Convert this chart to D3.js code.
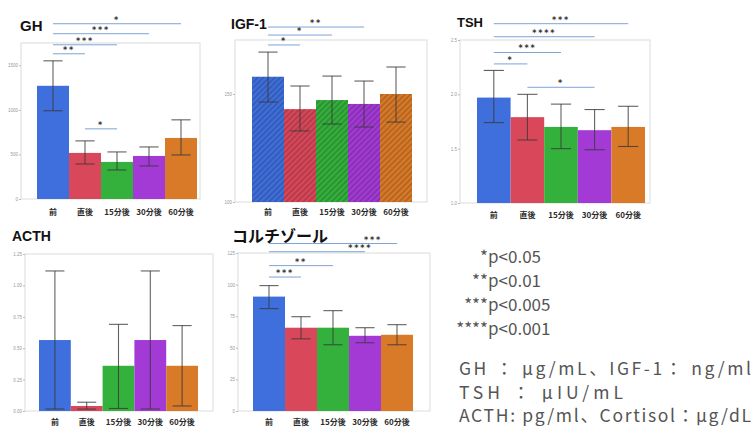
<!DOCTYPE html>
<html>
<head>
<meta charset="utf-8">
<script src="https://cdn.jsdelivr.net/npm/d3@7"></script>
<style>
  body { margin: 0; background: #fff; }
  svg { display: block; }
</style>
</head>
<body>
<div id="chart"></div>
<script>
// time points and bar colours
const categories = ['前', '直後', '15分後', '30分後', '60分後'];
const barColors = ['#3f6fdc', '#d9475a', '#34b03c', '#a33ad6', '#d97a28'];

// GH
const ghMean = [1270, 517, 416, 483, 685];
const ghLow = [990, 393, 326, 371, 494];
const ghHigh = [1550, 652, 528, 584, 888];
const ghTicks = [0, 500, 1000, 1500];
const ghSig = [
  { from: 0, to: 4, label: '*', level: 1966 },
  { from: 0, to: 3, label: '***', level: 1854 },
  { from: 0, to: 2, label: '***', level: 1730 },
  { from: 0, to: 1, label: '**', level: 1629 },
  { from: 1, to: 2, label: '*', level: 787 }
];

// IGF-1
const igfMean = [158, 143, 147.2, 145.4, 150];
const igfLow = [146.3, 132.9, 136.1, 134.7, 137];
const igfHigh = [169.4, 153.7, 158.3, 156, 162.5];
const igfTicks = [100, 150];
const igfSig = [
  { from: 0, to: 3, label: '**', level: 181 },
  { from: 0, to: 2, label: '*', level: 177.3 },
  { from: 0, to: 1, label: '*', level: 172.7 }
];

// TSH
const tshMean = [1.97, 1.79, 1.70, 1.67, 1.70];
const tshLow = [1.74, 1.58, 1.50, 1.49, 1.52];
const tshHigh = [2.22, 2.00, 1.91, 1.86, 1.89];
const tshTicks = [1.0, 1.5, 2.0, 2.5];
const tshSig = [
  { from: 0, to: 4, label: '***', level: 2.65 },
  { from: 0, to: 3, label: '****', level: 2.53 },
  { from: 0, to: 2, label: '***', level: 2.385 },
  { from: 0, to: 1, label: '*', level: 2.28 },
  { from: 1, to: 3, label: '*', level: 2.065 }
];

// ACTH
const acthMean = [0.565, 0.04, 0.36, 0.565, 0.36];
const acthLow = [0.016, 0.015, 0.02, 0.016, 0.04];
const acthHigh = [1.115, 0.07, 0.69, 1.115, 0.68];
const acthTicks = [0, 0.25, 0.5, 0.75, 1.0, 1.25];

// Cortisol
const cortMean = [90.5, 65.9, 65.9, 59.5, 60.3];
const cortLow = [81, 57.1, 52.4, 54, 52.4];
const cortHigh = [99.2, 74.6, 79.4, 65.9, 68.3];
const cortTicks = [0, 25, 50, 75, 100, 125];
const cortSig = [
  { from: 0, to: 4, label: '***', level: 132.5, at: 3.25 },
  { from: 0, to: 3, label: '****', level: 126, at: 2.85 },
  { from: 0, to: 2, label: '**', level: 115 },
  { from: 0, to: 1, label: '***', level: 106 }
];

// right-hand notes
const pNotes = [['*', 'p<0.05'], ['**', 'p<0.01'], ['***', 'p<0.005'], ['****', 'p<0.001']];
const unitNotes = ['GH ： μg/mL、IGF-1： ng/ml', 'TSH ： μIU/mL', 'ACTH: pg/ml、Cortisol：μg/dL'];

const width = 753, height = 428;
const jp = '"Noto Sans CJK JP", "Noto Sans", sans-serif';

const svg = d3.select('#chart').append('svg')
    .attr('width', width)
    .attr('height', height);

const defs = svg.append('defs');
barColors.forEach((c, i) => {
  const pat = defs.append('pattern')
      .attr('id', 'hatch' + i)
      .attr('patternUnits', 'userSpaceOnUse')
      .attr('width', 4)
      .attr('height', 4)
      .attr('patternTransform', 'rotate(45)');
  pat.append('rect').attr('width', 4).attr('height', 4).attr('fill', c);
  pat.append('line')
      .attr('x1', 1).attr('y1', 0).attr('x2', 1).attr('y2', 4)
      .attr('stroke', d3.color(c).darker(0.9))
      .attr('stroke-width', 1.2);
});

function drawPanel(p) {
  const g = svg.append('g');
  const x = d3.scaleBand().domain(categories).range([p.bx0, p.bx1]).padding(0);
  const y = d3.scaleLinear().domain(p.domain).range([p.bottom, p.top]);
  const cx = i => x(categories[i]) + x.bandwidth() / 2;

  g.append('rect')
      .attr('x', p.fx0).attr('y', p.top)
      .attr('width', p.fx1 - p.fx0).attr('height', p.bottom - p.top)
      .attr('fill', 'none').attr('stroke', '#dcdcdc').attr('stroke-width', 1);

  const axis = g.append('g')
      .attr('transform', 'translate(' + p.fx0 + ',0)')
      .call(d3.axisLeft(y).tickValues(p.ticks).tickFormat(d3.format(p.fmt)).tickSize(2).tickPadding(1));
  axis.select('.domain').remove();
  axis.selectAll('line').attr('stroke', '#bbb');
  axis.selectAll('text').attr('fill', '#999').style('font-size', '4.5px').style('font-family', 'Liberation Sans');

  g.selectAll('.bar')
      .data(p.mean)
    .enter().append('rect')
      .attr('x', (d, i) => x(categories[i]))
      .attr('y', d => y(d))
      .attr('width', x.bandwidth())
      .attr('height', d => y(p.domain[0]) - y(d))
      .attr('fill', (d, i) => p.hatch ? 'url(#hatch' + i + ')' : barColors[i]);

  const capW = x.bandwidth() * 0.6;
  const err = g.selectAll('.err')
      .data(p.mean)
    .enter().append('g')
      .attr('stroke', '#3a3a3a')
      .attr('stroke-opacity', 0.8)
      .attr('stroke-width', 1.1);
  err.append('line')
      .attr('x1', (d, i) => cx(i)).attr('x2', (d, i) => cx(i))
      .attr('y1', (d, i) => y(p.low[i])).attr('y2', (d, i) => y(p.high[i]));
  err.append('line')
      .attr('x1', (d, i) => cx(i) - capW / 2).attr('x2', (d, i) => cx(i) + capW / 2)
      .attr('y1', (d, i) => y(p.high[i])).attr('y2', (d, i) => y(p.high[i]));
  err.append('line')
      .attr('x1', (d, i) => cx(i) - capW / 2).attr('x2', (d, i) => cx(i) + capW / 2)
      .attr('y1', (d, i) => y(p.low[i])).attr('y2', (d, i) => y(p.low[i]));

  g.selectAll('.cat')
      .data(categories)
    .enter().append('text')
      .attr('x', (d, i) => cx(i))
      .attr('y', p.labelY)
      .attr('text-anchor', 'middle')
      .attr('fill', '#2a2a2a')
      .style('font-family', jp)
      .style('font-weight', 'bold')
      .style('font-size', '8px')
      .text(d => d);

  g.append('text')
      .attr('x', p.titleX).attr('y', p.titleY)
      .attr('fill', '#111')
      .style('font-family', p.titleFont)
      .style('font-weight', 'bold')
      .style('font-size', p.titleSize + 'px')
      .text(p.title);

  (p.sig || []).forEach(s => {
    const yy = y(s.level);
    g.append('line')
        .attr('x1', cx(s.from)).attr('x2', cx(s.to))
        .attr('y1', yy).attr('y2', yy)
        .attr('stroke', '#7ea3d6').attr('stroke-width', 1);
    const lx = s.at !== undefined ? p.bx0 + (s.at + 0.5) * x.bandwidth() : (cx(s.from) + cx(s.to)) / 2;
    g.append('text')
        .attr('x', lx).attr('y', yy - 1)
        .attr('text-anchor', 'middle')
        .attr('fill', '#333')
        .style('font-family', 'DejaVu Sans')
        .style('font-weight', 'bold')
        .style('font-size', '8px')
        .style('letter-spacing', '1.8px')
        .text(s.label);
  });
}

drawPanel({ title: 'GH', titleX: 20, titleY: 31, titleSize: 15, titleFont: 'Liberation Sans',
  mean: ghMean, low: ghLow, high: ghHigh, ticks: ghTicks, fmt: 'd', sig: ghSig,
  domain: [0, 1750], fx0: 21, fx1: 200, bx0: 37, bx1: 197, top: 43, bottom: 199, labelY: 215 });

drawPanel({ title: 'IGF-1', titleX: 231, titleY: 29, titleSize: 14, titleFont: 'Liberation Sans',
  mean: igfMean, low: igfLow, high: igfHigh, ticks: igfTicks, fmt: 'd', sig: igfSig, hatch: true,
  domain: [100, 175], fx0: 235, fx1: 427, bx0: 252, bx1: 412, top: 40, bottom: 202, labelY: 215 });

drawPanel({ title: 'TSH', titleX: 457, titleY: 27, titleSize: 13, titleFont: 'Liberation Sans',
  mean: tshMean, low: tshLow, high: tshHigh, ticks: tshTicks, fmt: '.1f', sig: tshSig,
  domain: [1.0, 2.5], fx0: 460, fx1: 650, bx0: 477, bx1: 645, top: 40, bottom: 203, labelY: 218 });

drawPanel({ title: 'ACTH', titleX: 12, titleY: 241, titleSize: 14, titleFont: 'Liberation Sans',
  mean: acthMean, low: acthLow, high: acthHigh, ticks: acthTicks, fmt: '.2f',
  domain: [0, 1.25], fx0: 25, fx1: 213, bx0: 39, bx1: 198, top: 254, bottom: 411, labelY: 425 });

drawPanel({ title: 'コルチゾール', titleX: 232, titleY: 242, titleSize: 16, titleFont: jp,
  mean: cortMean, low: cortLow, high: cortHigh, ticks: cortTicks, fmt: 'd', sig: cortSig,
  domain: [0, 125], fx0: 238, fx1: 430, bx0: 253, bx1: 413, top: 253, bottom: 411, labelY: 425 });

// significance legend
const notes = svg.append('g')
    .attr('fill', '#555')
    .style('font-family', jp)
    .style('font-size', '17px');
pNotes.forEach((n, i) => {
  notes.append('text')
      .attr('x', 488).attr('y', 263 + i * 24)
      .attr('text-anchor', 'end')
      .text(n[0]);
  notes.append('text')
      .attr('x', 488).attr('y', 263 + i * 24)
      .text(n[1]);
});

// unit notes, fitted to the widths seen in the reference
const unitWidths = [292, 164, 292];
unitNotes.forEach((n, i) => {
  notes.append('text')
      .attr('x', 459)
      .attr('y', 375 + i * 23.5)
      .attr('textLength', unitWidths[i])
      .attr('lengthAdjust', 'spacing')
      .style('font-size', '17.5px')
      .text(n);
});
</script>
</body>
</html>
